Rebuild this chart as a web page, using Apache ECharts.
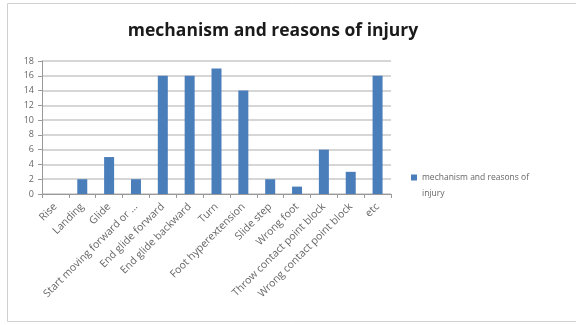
<!DOCTYPE html>
<html>
<head>
<meta charset="utf-8">
<script src="https://cdn.jsdelivr.net/npm/echarts@6/dist/echarts.min.js"></script>
<style>
  html, body { margin: 0; padding: 0; background: #fff; }
  #chart { width: 576px; height: 325px; }
</style>
</head>
<body>
<div id="chart"></div>
<script>
// categories and counts
const categories = [
  'Rise', 'Landing', 'Glide', 'Start moving forward or ...', 'End glide forward',
  'End glide backward', 'Turn', 'Foot hyperextension', 'Slide step', 'Wrong foot',
  'Throw contact point block', 'Wrong contact point block', 'etc'
];
const injuryCounts = [0, 2, 5, 2, 16, 16, 17, 14, 2, 1, 6, 3, 16];
const seriesName = 'mechanism and reasons of injury';
const legendLines = ['mechanism and reasons of', 'injury'];
const yTicks = [0, 2, 4, 6, 8, 10, 12, 14, 16, 18];

const legendText = {
  fontFamily: 'Open Sans',
  fontSize: 8.5,
  color: '#666'
};

const myChart = echarts.init(document.getElementById('chart'));
myChart.setOption({
  animation: false,
  title: {
    text: seriesName,
    left: 268,
    textAlign: 'center',
    top: 17,
    textStyle: {
      fontFamily: 'Open Sans',
      fontWeight: 'bold',
      fontSize: 17.5,
      color: '#1a1a1a'
    }
  },
  graphic: [{
    type: 'rect',
    shape: { x: 7.5, y: 3.5, width: 600, height: 318 },
    style: { fill: 'none', stroke: '#d0d0d0', lineWidth: 1 },
    silent: true
  }],
  // the legend label wraps onto two lines, marker beside the first one
  legend: [{
    left: 406,
    top: 168,
    itemWidth: 6,
    itemHeight: 6,
    itemGap: 0,
    icon: 'rect',
    formatter: () => legendLines[0],
    textStyle: legendText,
    data: [seriesName]
  }, {
    left: 406,
    top: 184,
    itemWidth: 6,
    itemHeight: 6,
    icon: 'none',
    formatter: () => legendLines[1],
    textStyle: legendText,
    data: [seriesName]
  }],
  grid: {
    left: 42,
    top: 61,
    width: 349,
    height: 133
  },
  xAxis: {
    type: 'category',
    data: categories,
    axisLine: { lineStyle: { color: '#999' } },
    axisTick: { show: true, alignWithLabel: false, length: 4, lineStyle: { color: '#999' } },
    axisLabel: {
      interval: 0,
      rotate: 45,
      margin: 11,
      fontFamily: 'Open Sans',
      fontSize: 10.5,
      color: '#666'
    }
  },
  yAxis: {
    type: 'value',
    min: 0,
    max: yTicks[yTicks.length - 1],
    interval: 2,
    axisLine: { show: true, lineStyle: { color: '#999' } },
    axisTick: { show: true, length: 4, lineStyle: { color: '#999' } },
    axisLabel: {
      margin: 8,
      fontFamily: 'Open Sans',
      fontSize: 9,
      color: '#666'
    },
    splitLine: { lineStyle: { color: '#c8c8c8', width: 1.5 } }
  },
  series: [{
    name: seriesName,
    type: 'bar',
    data: injuryCounts,
    barWidth: 10,
    itemStyle: { color: '#4a7ebb' }
  }]
});
window.addEventListener('resize', () => { myChart.resize(); });
</script>
</body>
</html>
